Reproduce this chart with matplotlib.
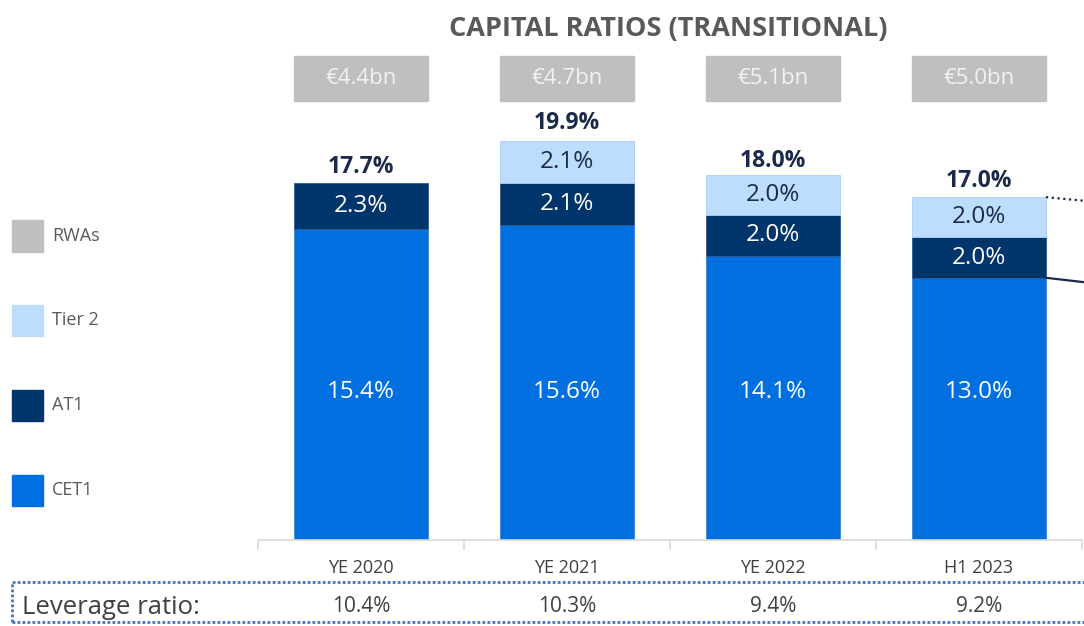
import matplotlib
matplotlib.use("Agg")
import matplotlib.pyplot as plt
from matplotlib.patches import Rectangle
import numpy as np

categories = ["YE 2020", "YE 2021", "YE 2022", "H1 2023"]
cet1 = [15.4, 15.6, 14.1, 13.0]
at1 = [2.3, 2.1, 2.0, 2.0]
tier2 = [0.0, 2.1, 2.0, 2.0]
totals = [17.7, 19.9, 18.0, 17.0]
rwas = ["€4.4bn", "€4.7bn", "€5.1bn", "€5.0bn"]
leverage = ["10.4%", "10.3%", "9.4%", "9.2%"]
legend_labels = ["RWAs", "Tier 2", "AT1", "CET1"]

C_CET1 = "#0070E0"
C_AT1 = "#00356B"
C_T2 = "#BDDDFD"
C_RWA = "#BFBFBF"
C_NAVY = "#1B2A4A"
C_GRAY = "#595959"

FONT = ["Open Sans", "DejaVu Sans"]
plt.rcParams["font.family"] = FONT

W, H = 1084, 626
fig = plt.figure(figsize=(W / 100, H / 100), dpi=100)

ax_left, ax_right = 258, 1082
ax_bottom, ax_top = 540, 0
ax = fig.add_axes([ax_left / W, (H - ax_bottom) / H, (ax_right - ax_left) / W, (ax_bottom - ax_top) / H])
ppp = 20.17  # pixels per percent
ax.set_xlim(-0.5, 3.5)
ax.set_ylim(0, (ax_bottom - ax_top) / ppp)

x = np.arange(len(categories))
bw = 0.65
ax.bar(x, cet1, bw, color=C_CET1, edgecolor="#3D85D6", linewidth=0.6)
ax.bar(x, at1, bw, bottom=cet1, color=C_AT1, edgecolor="#2E5C8F", linewidth=0.6)
b2 = np.array(cet1) + np.array(at1)
for i in range(len(x)):
    if tier2[i] > 0:
        ax.bar(x[i], tier2[i], bw, bottom=b2[i], color=C_T2, edgecolor="#A9CEF5", linewidth=0.6)

cet1_label_y = (ax_bottom - 392) / ppp
for i in range(len(x)):
    ax.text(x[i], cet1_label_y, f"{cet1[i]:.1f}%", ha="center", va="center", color="white", fontsize=17.5)
    ax.text(x[i], cet1[i] + at1[i] / 2, f"{at1[i]:.1f}%", ha="center", va="center", color="white", fontsize=17.5)
    if tier2[i] > 0:
        ax.text(x[i], b2[i] + tier2[i] / 2, f"{tier2[i]:.1f}%", ha="center", va="center", color=C_NAVY, fontsize=17.5)
    ax.text(x[i], totals[i] + 0.78, f"{totals[i]:.1f}%", ha="center", va="center", color=C_NAVY,
            fontsize=16.5, fontweight="bold")
    # RWA boxes
    y0 = (ax_bottom - 101) / ppp
    y1 = (ax_bottom - 56) / ppp
    ax.add_patch(Rectangle((x[i] - bw / 2, y0), bw, y1 - y0, color=C_RWA, clip_on=False))
    ax.text(x[i], (y0 + y1) / 2, rwas[i], ha="center", va="center", color="#F2F2F2", fontsize=16)

# connector lines at right
ax.plot([3 + bw / 2, 3.75], [totals[3], totals[3] - 0.42], ls=(0, (1, 1.6)), color=C_NAVY, lw=1.6, clip_on=False)
ax.plot([3 + bw / 2, 3.75], [cet1[3], cet1[3] - 0.5], color=C_NAVY, lw=1.6, clip_on=False)

for s in ["top", "right", "left"]:
    ax.spines[s].set_visible(False)
ax.spines["bottom"].set_color("#D9D9D9")
ax.spines["bottom"].set_linewidth(1.2)
ax.set_yticks([])
ax.set_xticks(np.arange(-0.5, 4.0, 1.0))
ax.set_xticklabels([])
ax.tick_params(axis="x", length=7, color="#D9D9D9", width=1.2)
for i, c in enumerate(categories):
    ax.text(x[i], -1.4, c, ha="center", va="center", color="#404040", fontsize=13)

# title
fig.text(668 / W, 1 - 29 / H, "CAPITAL RATIOS (TRANSITIONAL)", ha="center", va="center",
         fontsize=19.5, fontweight="bold", color=C_GRAY)

# legend
leg_colors = [C_RWA, C_T2, C_AT1, C_CET1]
leg_y = [236, 320, 405, 490]
for lab, col, yc in zip(legend_labels, leg_colors, leg_y):
    fig.patches.append(Rectangle((12 / W, 1 - (yc + 15.5) / H), 31 / W, 31 / H, color=col,
                                 transform=fig.transFigure, figure=fig))
    fig.text(52 / W, 1 - yc / H, lab, ha="left", va="center", fontsize=13, color=C_GRAY)

# leverage box
fig.patches.append(Rectangle((12 / W, 1 - 622 / H), 1080 / W, 40 / H, fill=False, edgecolor="#4472C4",
                             linewidth=2, linestyle=(0, (1, 0.8)), transform=fig.transFigure, figure=fig))
fig.text(22 / W, 1 - 607 / H, "Leverage ratio:", ha="left", va="center", fontsize=18.5, color="#404040")
for i, v in enumerate(leverage):
    xf = ax.transData.transform((x[i], 0))[0] / W
    fig.text(xf, 1 - 607 / H, v, ha="center", va="center", fontsize=15, color="#404040")

fig.savefig("out.png", dpi=100, facecolor="white")
